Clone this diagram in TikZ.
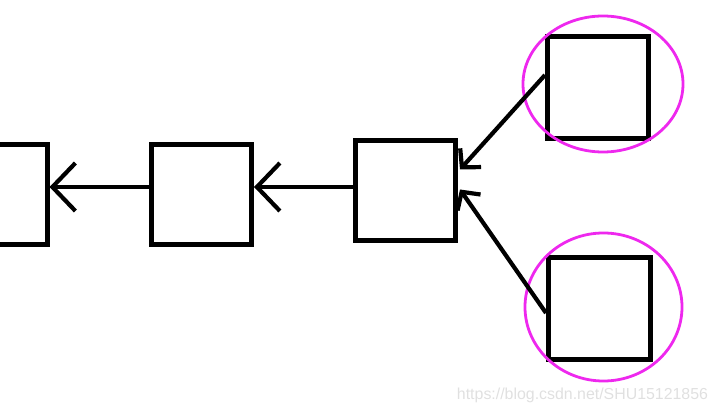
\documentclass[tikz,border=0pt]{standalone}
\usepackage{fontspec}
\setmainfont{Liberation Sans}
\usetikzlibrary{arrows.meta,shapes.geometric}
\definecolor{ring}{RGB}{238,40,238}
\definecolor{wm}{RGB}{224,224,224}
\tikzset{
  box/.style={draw=black,line width=5pt,inner sep=0pt,minimum width=100pt,minimum height=100pt},
  conn/.style={draw=black,line width=4.2pt,-{Straight Barb[length=23pt,width=48pt,line width=4.2pt]}},
  sconn/.style={draw=black,line width=4.2pt,-{Straight Barb[length=13pt,width=28pt,line width=4.2pt]}},
  ringstyle/.style={draw=ring,line width=2.8pt,ellipse,inner sep=0pt}
}
\begin{document}
\begin{tikzpicture}[x=1pt,y=1pt]
\useasboundingbox (0,0) rectangle (718,-414);
\node[box] (A) at (-3,-195) {};
\node[box] (B) at (201.5,-195) {};
\node[box] (C) at (405.5,-190.5) {};
\node[box,minimum width=101pt,minimum height=102pt] (D) at (598,-87.5) {};
\node[box,minimum width=102pt,minimum height=102pt] (E) at (599.5,-308.5) {};
\node[ringstyle,minimum width=160pt,minimum height=136pt] (RD) at (603,-84) {};
\node[ringstyle,minimum width=157pt,minimum height=148pt] (RE) at (603.5,-307) {};
\draw[conn] ([yshift=8pt]B.west) -- ([yshift=8pt]A.east);
\draw[conn] ([yshift=3.5pt]C.west) -- ([yshift=8pt]B.east);
\draw[sconn] ([yshift=12.5pt]D.west) -- ([xshift=2pt,yshift=21pt]C.east);
\draw[sconn] ([yshift=-4.5pt]E.west) -- ([xshift=2pt,yshift=1pt]C.east);
\node[text=wm,font=\fontsize{15.9pt}{18pt}\selectfont,inner sep=0pt] (W) at (582.5,-395) {https://blog.csdn.net/SHU15121856};
\end{tikzpicture}
\end{document}
